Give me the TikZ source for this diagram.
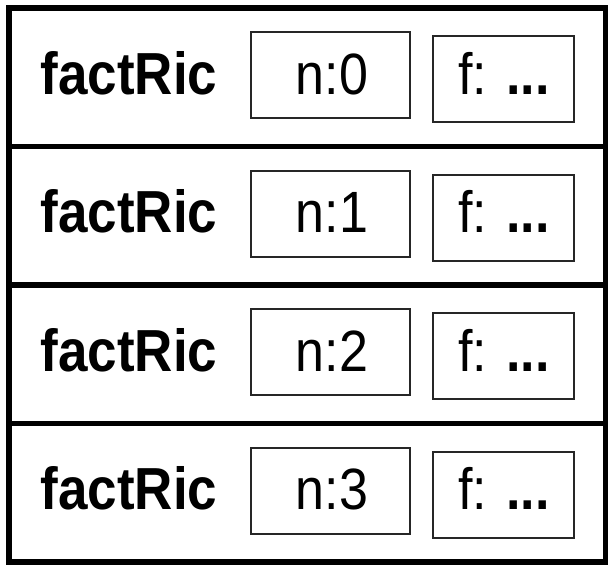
\documentclass[tikz,border=0pt]{standalone}
\usepackage{fontspec}
\setmainfont{Liberation Sans}
\newcommand{\tallx}[1]{\scalebox{1}[1.12]{#1}}
\begin{document}
\begin{tikzpicture}[x=1pt,y=-1pt,
  framebox/.style={draw=black, line width=5.5pt, minimum width=597pt, minimum height=138.5pt, inner sep=0pt, outer sep=0pt},
  nbox/.style={draw=black!85, line width=1.6pt, minimum width=159pt, minimum height=86pt, inner sep=0pt},
  fbox/.style={draw=black!85, line width=1.6pt, minimum width=141pt, minimum height=86pt, inner sep=0pt},
  lbl/.style={anchor=base, inner sep=0pt, font=\fontsize{52}{60}\selectfont}]
\useasboundingbox (0,0) rectangle (608,565);
\foreach \i in {0,1,2,3}{
  \pgfmathsetmacro{\c}{77.25+138.5*\i}
  \node[framebox] (frame\i) at (307.5,\c) {};
  \node[nbox] (n\i) at (330.5,\c-2) {};
  \node[fbox] (f\i) at (503.5,\c+2) {};
  \node[lbl, font=\fontsize{53}{60}\selectfont\bfseries] (name\i) at (129,\c+17) {\tallx{factRic}};
  \node[lbl] (nt\i) at (332,\c+17) {\tallx{n:\i}};
  \node[lbl] (ft\i) at (504,\c+17) {\tallx{f: \textbf{...}}};
}
\end{tikzpicture}
\end{document}
